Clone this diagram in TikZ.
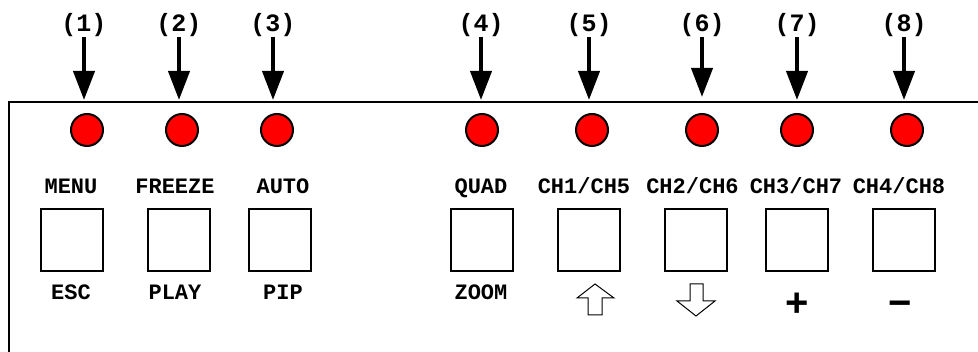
\documentclass[tikz,border=0pt]{standalone}
\usepackage{fontspec}
\newfontfamily\panelmono{Liberation Mono}
\newfontfamily\panelsans{Liberation Sans}
\usepackage{tikz}
\usetikzlibrary{positioning, arrows.meta}

\begin{document}
\begin{tikzpicture}[x=1pt, y=-1pt,
    led/.style={circle, draw, line width=2pt, fill=red, minimum size=32pt, inner sep=0pt},
    key/.style={rectangle, draw, line width=2pt, minimum size=62pt, inner sep=0pt},
    num/.style={anchor=base, inner sep=0pt, font=\fontsize{25}{25}\panelmono\bfseries},
    caption/.style={anchor=base, inner sep=0pt, font=\fontsize{22}{22}\panelmono\bfseries},
    sign/.style={anchor=base, inner sep=0pt, font=\fontsize{40}{40}\panelsans\bfseries},
    pointer/.style={line width=4pt, -{Triangle[width=21pt,length=29pt]}},
    hollow/.style={line width=1pt, line join=miter}]
    \useasboundingbox (0,0) rectangle (978,352);
    % front panel
    \draw[line width=2pt] (978,102) -- (8.5,102) -- (8.5,352);
    % numbers, arrows, leds and keys
    \foreach \n/\ax/\ty/\lx/\bx in {1/84/100/87/72, 2/179/100/182/179, 3/273/100/277/280,
        4/481/100/482/482, 5/589/100/592/589, 6/702/97/702/696, 7/797/100/797/797, 8/904/100/907/904}
    {
        \node[num] (num\n) at (\ax,31.5) {(\n)};
        \coordinate (tip\n) at (\ax,\ty);
        \draw[pointer] (num\n.south) -- (tip\n);
        \node[led] (led\n) at (\lx,130) {};
        \node[key] (key\n) at (\bx,240.5) {};
    }
    % labels above the keys
    \foreach \n/\x/\txt in {1/71/MENU, 2/175/FREEZE, 3/283/AUTO, 4/481/QUAD,
        5/584/{CH1/CH5}, 6/692.5/{CH2/CH6}, 7/796/{CH3/CH7}, 8/899/{CH4/CH8}}
        \node[caption] (top\n) at (\x,194) {\txt};
    % labels below the keys
    \foreach \n/\x/\txt in {1/71/ESC, 2/175/PLAY, 3/283/PIP, 4/481/ZOOM}
        \node[caption] (bot\n) at (\x,300) {\txt};
    % up and down
    \draw[hollow] (577,298) -- (595,284) -- (614,298) -- (602,298) -- (602,315)
        -- (588,315) -- (588,298) -- cycle;
    \draw[hollow] (690,284) -- (703,284) -- (703,301) -- (715,301) -- (696,316)
        -- (677,301) -- (690,301) -- cycle;
    % plus and minus
    \node[sign] (plus) at (797,316.5) {+};
    \node[sign] (minus) at (900,316.5) {−};
\end{tikzpicture}
\end{document}
